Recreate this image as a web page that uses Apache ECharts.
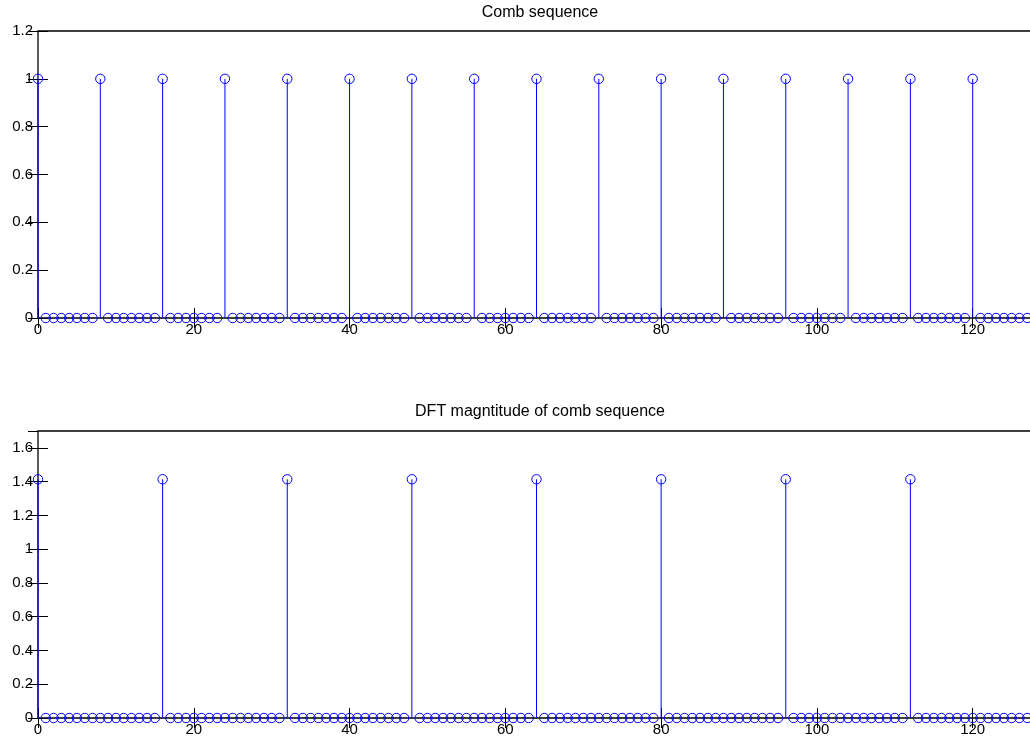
<!DOCTYPE html>
<html>
<head>
<meta charset="utf-8">
<script src="https://cdn.jsdelivr.net/npm/echarts@6/dist/echarts.min.js"></script>
<style>html,body{margin:0;padding:0;background:#fff;overflow:hidden;width:1030px;height:742px}#c{width:1045px;height:742px}</style>
</head>
<body>
<div id="c"></div>
<script>
// Sample values (n = 0..127)
const combValues = [
  1,0,0,0,0,0,0,0, 1,0,0,0,0,0,0,0, 1,0,0,0,0,0,0,0, 1,0,0,0,0,0,0,0,
  1,0,0,0,0,0,0,0, 1,0,0,0,0,0,0,0, 1,0,0,0,0,0,0,0, 1,0,0,0,0,0,0,0,
  1,0,0,0,0,0,0,0, 1,0,0,0,0,0,0,0, 1,0,0,0,0,0,0,0, 1,0,0,0,0,0,0,0,
  1,0,0,0,0,0,0,0, 1,0,0,0,0,0,0,0, 1,0,0,0,0,0,0,0, 1,0,0,0,0,0,0,0
];
const dftValues = [
  1.414,0,0,0,0,0,0,0,0,0,0,0,0,0,0,0,
  1.414,0,0,0,0,0,0,0,0,0,0,0,0,0,0,0,
  1.414,0,0,0,0,0,0,0,0,0,0,0,0,0,0,0,
  1.414,0,0,0,0,0,0,0,0,0,0,0,0,0,0,0,
  1.414,0,0,0,0,0,0,0,0,0,0,0,0,0,0,0,
  1.414,0,0,0,0,0,0,0,0,0,0,0,0,0,0,0,
  1.414,0,0,0,0,0,0,0,0,0,0,0,0,0,0,0,
  1.414,0,0,0,0,0,0,0,0,0,0,0,0,0,0,0
];
const titles = ['Comb sequence', 'DFT magntitude of comb sequence'];
const xTicks = [0, 20, 40, 60, 80, 100, 120];

const chart = echarts.init(document.getElementById('c'));
const FONT = 'Liberation Sans, Arial, Helvetica, sans-serif';
const BLUE = '#0000ff';

function stemItem(params, api) {
  const x = api.value(0), y = api.value(1);
  const top = api.coord([x, y]);
  const base = api.coord([x, 0]);
  const children = [];
  if (y !== 0) {
    children.push({type: 'line', shape: {x1: base[0], y1: base[1], x2: top[0], y2: top[1]},
      style: {stroke: BLUE, lineWidth: 1}});
  }
  children.push({type: 'circle', shape: {cx: top[0], cy: top[1], r: 4.7},
    style: {stroke: BLUE, fill: null, lineWidth: 1}});
  return {type: 'group', children};
}

function xAxes(gi) {
  const common = {type: 'value', gridIndex: gi, min: 0, max: 128, interval: 20,
    splitLine: {show: false},
    axisLine: {show: false},
    axisTick: {show: true, inside: true, length: 10, lineStyle: {color: '#000', width: 1}}};
  return [
    Object.assign({}, common, {position: 'bottom',
      axisLabel: {show: true, color: '#000', fontFamily: FONT, fontSize: 15, margin: 4, showMaxLabel: false,
        formatter: v => xTicks.includes(v) ? String(v) : ''}}),
    Object.assign({}, common, {position: 'top', axisLabel: {show: false}})
  ];
}
function yAxes(gi, max) {
  const common = {type: 'value', gridIndex: gi, min: 0, max: max, interval: 0.2,
    splitLine: {show: false},
    axisLine: {show: false},
    axisTick: {show: true, inside: true, length: 10, lineStyle: {color: '#000', width: 1}}};
  return [
    Object.assign({}, common, {position: 'left',
      axisLabel: {show: true, color: '#000', fontFamily: FONT, fontSize: 15, margin: 5,
        showMaxLabel: max === 1.2,
        formatter: v => String(Math.round(v * 10) / 10)}}),
    Object.assign({}, common, {position: 'right', axisLabel: {show: false}})
  ];
}

const pts = a => a.map((v, i) => [i, v]);

chart.setOption({
  animation: false,
  backgroundColor: '#fff',
  title: [
    {text: titles[0], left: 535, top: 0, textAlign: 'center',
      textStyle: {fontFamily: FONT, fontSize: 16, fontWeight: 'normal', color: '#000'}},
    {text: titles[1], left: 535, top: 399, textAlign: 'center',
      textStyle: {fontFamily: FONT, fontSize: 16, fontWeight: 'normal', color: '#000'}}
  ],
  grid: [
    {left: 38, top: 31, width: 997, height: 287, show: true, borderColor: '#000', borderWidth: 1.3, backgroundColor: 'transparent'},
    {left: 38, top: 431, width: 997, height: 287, show: true, borderColor: '#000', borderWidth: 1.3, backgroundColor: 'transparent'}
  ],
  xAxis: [...xAxes(0), ...xAxes(1)],
  yAxis: [...yAxes(0, 1.2), ...yAxes(1, 1.7)],
  series: [
    {type: 'custom', xAxisIndex: 0, yAxisIndex: 0, clip: false, renderItem: stemItem, data: pts(combValues)},
    {type: 'custom', xAxisIndex: 2, yAxisIndex: 2, clip: false, renderItem: stemItem, data: pts(dftValues)}
  ]
});
</script>
</body>
</html>
